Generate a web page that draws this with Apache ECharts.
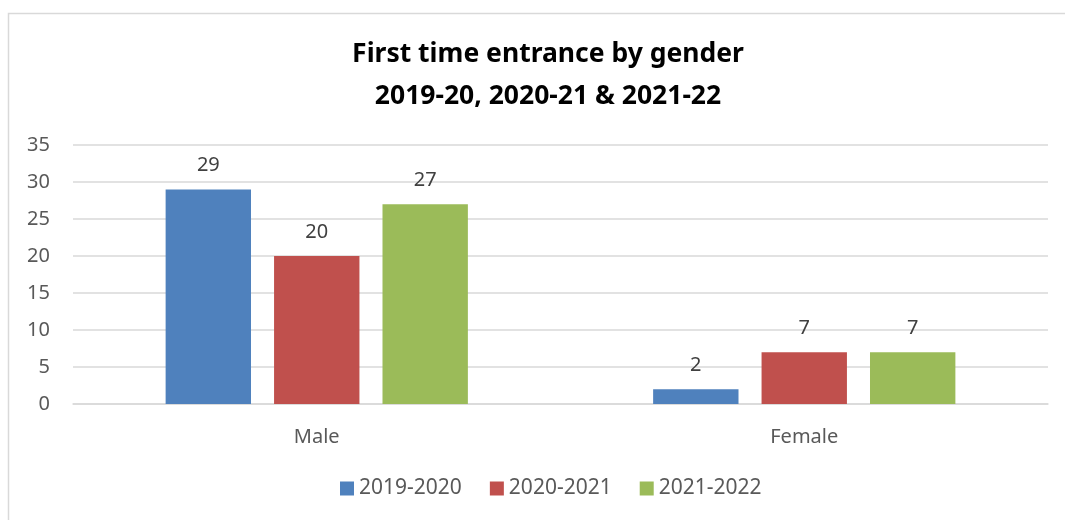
<!DOCTYPE html>
<html><head><meta charset="utf-8">
<script src="https://cdn.jsdelivr.net/npm/echarts@6/dist/echarts.min.js"></script>
<style>html,body{margin:0;padding:0;background:#fff}#c{width:1065px;height:520px}</style>
</head><body><div id="c"></div>
<script>
const categories = ['Male', 'Female'];
const seriesNames = ['2019-2020', '2020-2021', '2021-2022'];
const s2019 = [29, 2];
const s2020 = [20, 7];
const s2021 = [27, 7];
const colors = ['#4F81BD', '#C0504D', '#9BBB59'];
const font = 'Noto Sans';
const chart = echarts.init(document.getElementById('c'));
const mk = (name, data, color) => ({
  name, type: 'bar', data, barGap: '27%', barCategoryGap: '38%',
  itemStyle: {color},
  label: {show: true, position: 'top', distance: 14, color: '#404040', fontSize: 20, fontFamily: font}
});
chart.setOption({
  animation: false,
  graphic: [{type: 'rect', shape: {x: 8.5, y: 13.5, width: 1080, height: 540}, style: {fill: 'none', stroke: '#d9d9d9', lineWidth: 1.5}}],
  title: {
    text: 'First time entrance by gender\n2019-20, 2020-21 & 2021-22',
    left: 543, top: 28, textAlign: 'center',
    textStyle: {fontFamily: font, fontWeight: 'bold', fontSize: 26.5, color: '#000', lineHeight: 42}
  },
  legend: {
    data: seriesNames, bottom: 16, left: 335, itemWidth: 14, itemHeight: 14, itemGap: 28,
    icon: 'rect', textStyle: {fontFamily: font, fontSize: 21, color: '#595959'}
  },
  grid: {left: 73, right: 17, top: 145, bottom: 116, containLabel: false},
  xAxis: {
    type: 'category', data: categories,
    axisLine: {lineStyle: {color: '#d9d9d9', width: 1.5}}, axisTick: {show: false},
    axisLabel: {fontFamily: font, fontSize: 20, color: '#595959', margin: 23}
  },
  yAxis: {
    type: 'value', min: 0, max: 35, interval: 5,
    axisLine: {show: false}, axisTick: {show: false},
    splitLine: {lineStyle: {color: '#d9d9d9', width: 1.5}},
    axisLabel: {fontFamily: font, fontSize: 20, color: '#595959', margin: 23}
  },
  series: [mk(seriesNames[0], s2019, colors[0]), mk(seriesNames[1], s2020, colors[1]), mk(seriesNames[2], s2021, colors[2])]
});
</script></body></html>
